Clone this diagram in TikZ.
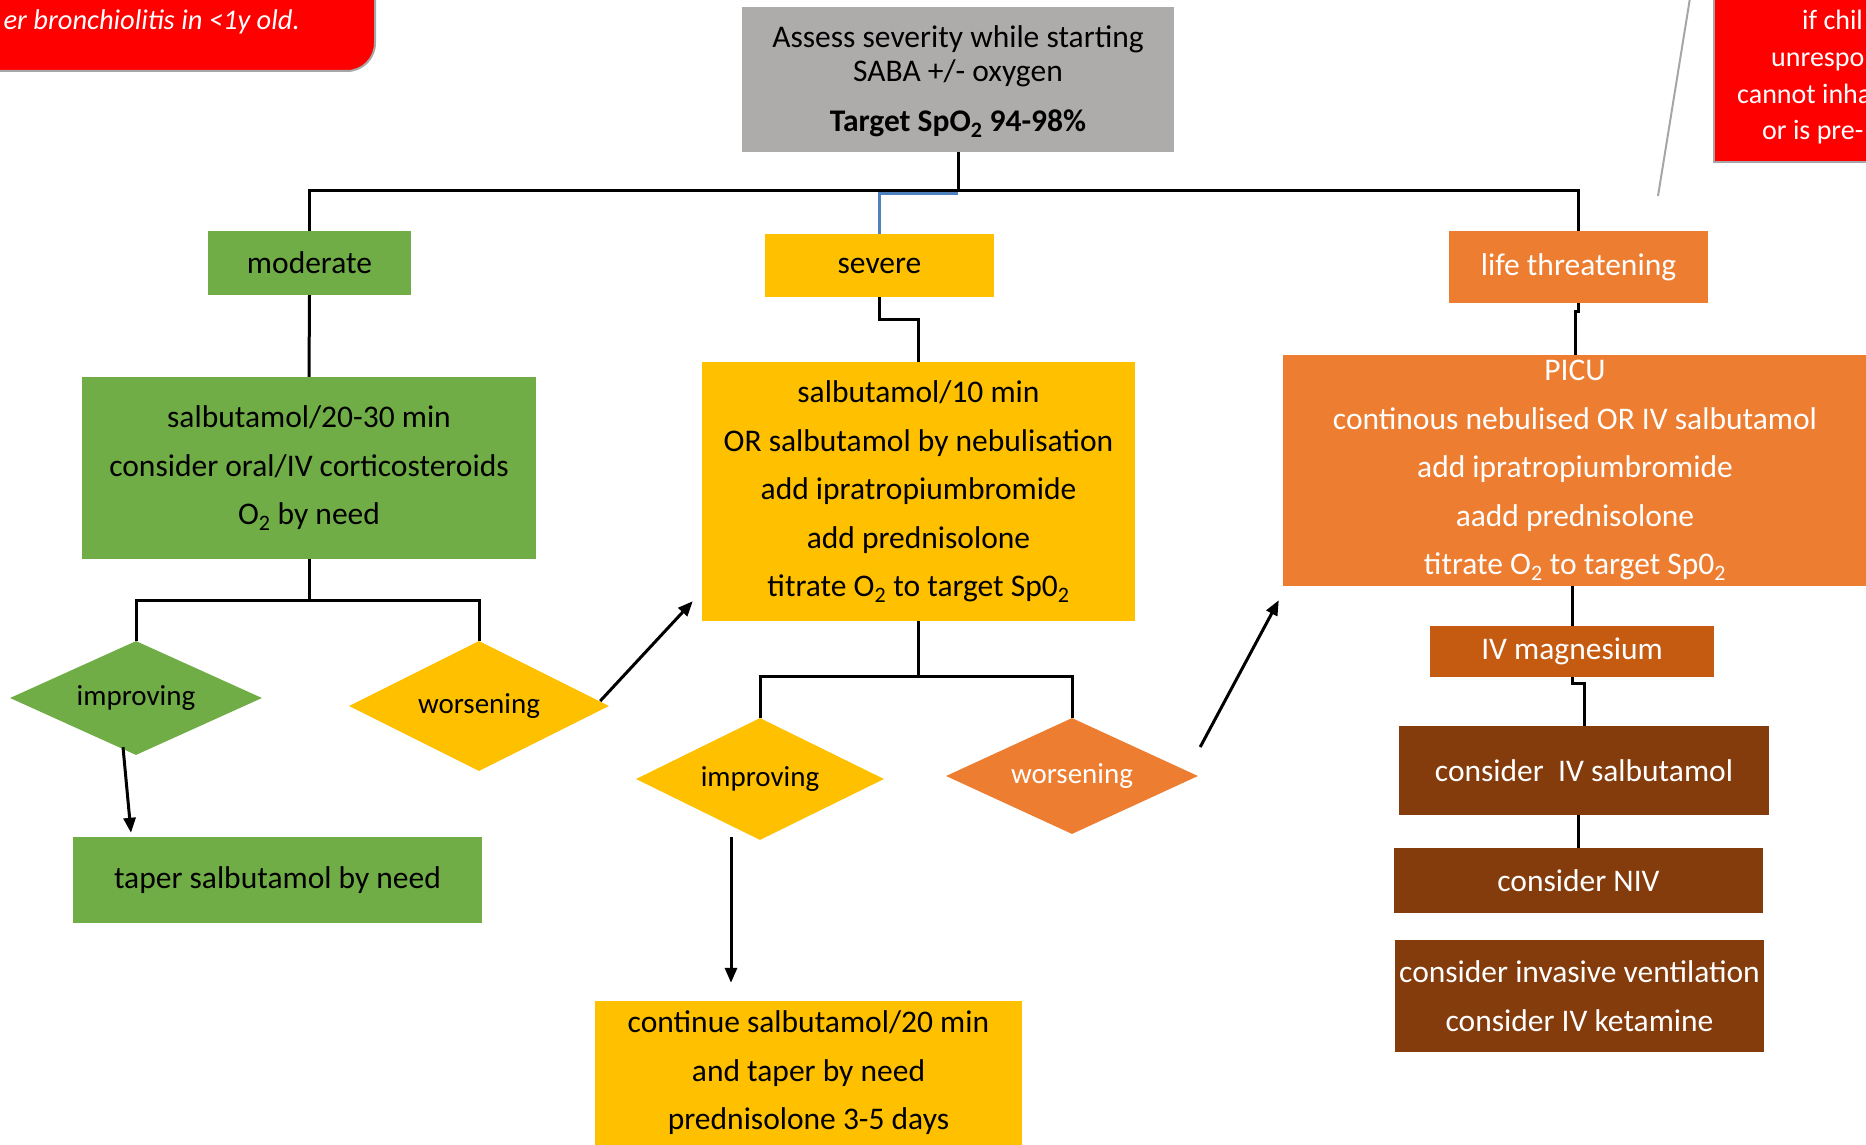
\documentclass[tikz,border=0pt]{standalone}
\usepackage{fontspec}
\setmainfont{Carlito}
\usetikzlibrary{shapes.geometric,arrows.meta,calc}
\definecolor{cgreen}{HTML}{70AD47}
\definecolor{cyellow}{HTML}{FFC000}
\definecolor{corange}{HTML}{ED7D31}
\definecolor{cmag}{HTML}{C55A11}
\definecolor{cbrown}{HTML}{843C0C}
\definecolor{cgray}{HTML}{AEABAB}
\definecolor{cred}{HTML}{FF0000}
\definecolor{cblue}{HTML}{4F81BD}
\definecolor{cline}{HTML}{A6A6A6}
\begin{document}
\begin{tikzpicture}[x=1pt,y=-1pt,
  box/.style={rectangle,inner sep=0pt,align=center,font=\fontsize{31.5}{48.5}\selectfont},
  dia/.style={diamond,aspect=2.2,inner sep=0pt,font=\fontsize{29}{34}\selectfont},
  conn/.style={line width=3pt,black},
  bconn/.style={line width=2.8pt,cblue},
  arr/.style={conn,-{Triangle[length=15pt,width=12pt]}},
  redfrag/.style={anchor=base west,inner sep=0pt,text=white,font=\fontsize{28}{34}\selectfont},
]
\useasboundingbox (0,0) rectangle (1866,1145);

% red call-out boxes (partly outside the picture)
\draw[fill=cred,draw=gray!70,line width=2pt,rounded corners=28pt] (-40,-40) rectangle (375,71);
\node[anchor=base east,inner sep=0pt,text=white,font=\fontsize{28.5}{34}\selectfont\itshape] (redLt) at (300,30) {er bronchiolitis in <1y old.};
\draw[fill=cred,draw=gray!70,line width=2pt] (1714,-40) rectangle (1920,162);
\node[redfrag] (r1) at (1802,30) {if chil};
\node[redfrag] (r2) at (1771,67) {unrespo};
\node[redfrag] (r3) at (1737,104) {cannot inha};
\node[redfrag] (r4) at (1762,140) {or is pre-};
\coordinate (co1) at (1690,-2);
\coordinate (co2) at (1658,196);
\draw[line width=2pt,cline] (co1) -- (co2);

% nodes
\node[box,fill=cgray,minimum width=432pt,minimum height=145pt,font=\fontsize{31.5}{34}\selectfont] (g) at (958,79.5)
  {\rule{0pt}{26pt}Assess severity while starting\\SABA +/- oxygen\\[16pt]\textbf{Target SpO\textsubscript{2} 94-98\%}};
\node[box,fill=cgreen,minimum width=203pt,minimum height=64pt] (mod) at (309.5,263) {moderate};
\node[box,fill=cyellow,minimum width=229pt,minimum height=63pt] (sev) at (879.5,265.5) {severe};
\node[box,fill=corange,text=white,minimum width=259pt,minimum height=72pt] (life) at (1578.5,267) {life threatening};
\node[box,fill=cgreen,minimum width=454pt,minimum height=182pt] (gbox) at (309,468)
  {salbutamol/20-30 min\\consider oral/IV corticosteroids\\O\textsubscript{2} by need};
\node[box,fill=cyellow,minimum width=433pt,minimum height=259pt] (ybox) at (918.5,491.5)
  {salbutamol/10 min\\OR salbutamol by nebulisation\\add ipratropiumbromide\\add prednisolone\\titrate O\textsubscript{2} to target Sp0\textsubscript{2}};
\node[box,fill=corange,text=white,minimum width=584pt,minimum height=231pt] (picu) at (1575,470.5)
  {PICU\\continous nebulised OR IV salbutamol\\add ipratropiumbromide\\aadd prednisolone\\titrate O\textsubscript{2} to target Sp0\textsubscript{2}};
\node[dia,fill=cgreen,minimum width=252pt,minimum height=114pt] (gimp) at (136,698) {improving};
\node[dia,fill=cyellow,minimum width=260pt,minimum height=130pt] (gwor) at (479,706) {worsening};
\node[box,fill=cgreen,minimum width=409pt,minimum height=86pt] (taper) at (277.5,880) {taper salbutamol by need};
\node[dia,fill=cyellow,minimum width=248pt,minimum height=122pt] (yimp) at (760,779) {improving};
\node[dia,fill=corange,text=white,minimum width=252pt,minimum height=116pt] (owor) at (1072,776) {worsening};
\node[box,fill=cyellow,minimum width=427pt,minimum height=144pt] (cont) at (808.5,1073)
  {continue salbutamol/20 min\\and taper by need\\prednisolone 3-5 days};
\node[box,fill=cmag,text=white,minimum width=284pt,minimum height=51pt] (mag) at (1572,651.5) {IV magnesium};
\node[box,fill=cbrown,text=white,minimum width=370pt,minimum height=89pt] (civs) at (1584,770.5) {consider\ \ IV salbutamol};
\node[box,fill=cbrown,text=white,minimum width=369pt,minimum height=65pt] (niv) at (1578.5,880.5) {consider NIV};
\node[box,fill=cbrown,text=white,minimum width=369pt,minimum height=112pt] (inv) at (1579.5,996)
  {consider invasive ventilation\\consider IV ketamine};

% connectors
\coordinate (hub) at ($(g.south)+(0,38)$);
\draw[conn] (g.south) -- (hub);
\draw[conn] (mod.north) |- (hub) -| (life.north);
\draw[bconn] ($(hub)+(0,3.5)$) -| (sev.north);
\draw[conn] (mod.south) -- (gbox.north);
\coordinate (gsplit) at ($(gbox.south)+(0,41)$);
\draw[conn] (gbox.south) -- (gsplit);
\draw[conn] (gimp.north) |- (gsplit) -| (gwor.north);
\draw[arr] ($(gimp.south)+(-13,-8)$) -- ($(taper.north)+(-146.5,-4)$);
\draw[arr] ($(gwor.east)+(-9,-5)$) -- ($(ybox.south west)+(-9,-20)$);
\draw[conn] (sev.south) -- ++(0,22) -| (ybox.north);
\coordinate (ysplit) at ($(ybox.south)+(0,55)$);
\draw[conn] (ybox.south) -- (ysplit);
\draw[conn] (yimp.north) |- (ysplit) -| (owor.north);
\draw[arr] ($(yimp.south)+(-29,-3)$) -- ($(cont.north)+(-77.5,-18)$);
\draw[arr] ($(owor.east)+(2,-29)$) -- ($(picu.south west)+(-4,14)$);
\draw[conn] (life.south) -- ++(0,8) -| (picu.north);
\draw[conn] (mag.north |- picu.south) -- (mag.north);
\draw[conn] (mag.south) -- ++(0,6) -| (civs.north);
\draw[conn] (niv.north |- civs.south) -- (niv.north);
\end{tikzpicture}
\end{document}
